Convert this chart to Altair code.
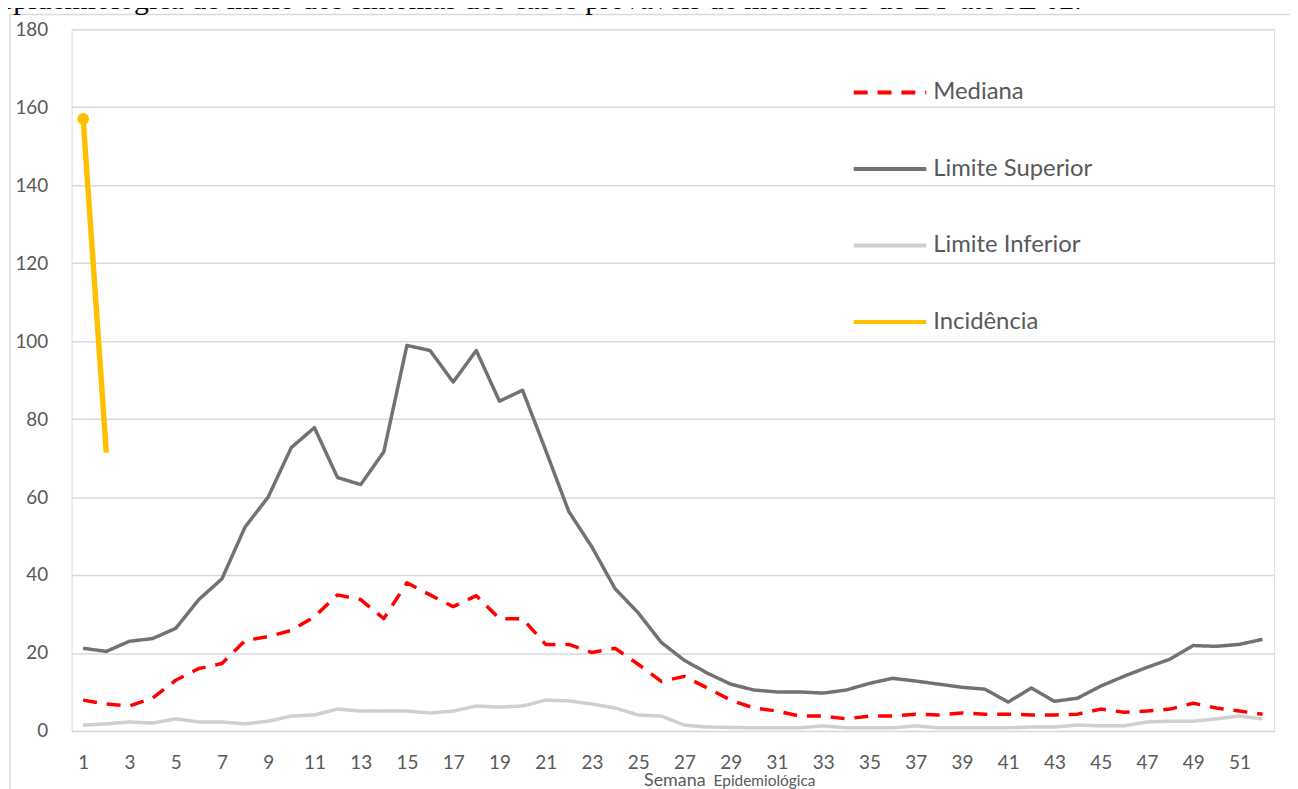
import altair as alt
import pandas as pd

weeks = list(range(1, 53))

mediana = [7.9, 6.9, 6.4, 8.4, 13.0, 16.0, 17.3, 23.2, 24.2, 25.8,
           29.3, 34.9, 33.7, 28.8, 38.0, 34.9, 31.9, 34.7, 28.8, 28.8,
           22.2, 22.2, 20.1, 21.2, 17.1, 12.7, 14.0, 11.0, 7.9, 5.9,
           5.1, 3.8, 3.8, 3.1, 3.8, 3.8, 4.3, 4.1, 4.6, 4.3,
           4.3, 4.1, 4.1, 4.3, 5.6, 4.8, 5.1, 5.6, 7.1, 5.9,
           5.1, 4.3]

limite_superior = [21.2, 20.4, 23.0, 23.7, 26.3, 33.7, 39.0, 52.3, 60.0, 72.7,
                   77.8, 65.0, 63.2, 71.6, 98.9, 97.6, 89.5, 97.6, 84.6, 87.4,
                   72.0, 56.3, 47.2, 36.5, 30.3, 22.7, 18.1, 14.8, 12.0, 10.5,
                   10.0, 10.0, 9.7, 10.5, 12.2, 13.5, 12.8, 12.0, 11.2, 10.7,
                   7.4, 11.0, 7.6, 8.4, 11.5, 14.0, 16.3, 18.4, 21.9, 21.7,
                   22.2, 23.5]

limite_inferior = [1.5, 1.8, 2.3, 2.0, 3.1, 2.3, 2.3, 1.8, 2.5, 3.8,
                   4.1, 5.6, 5.1, 5.1, 5.1, 4.6, 5.1, 6.4, 6.1, 6.4,
                   7.9, 7.7, 6.9, 5.9, 4.1, 3.8, 1.5, 1.0, 0.9, 0.8,
                   0.8, 0.8, 1.3, 0.8, 0.8, 0.8, 1.3, 0.8, 0.8, 0.8,
                   0.8, 1.0, 1.0, 1.5, 1.3, 1.3, 2.3, 2.5, 2.5, 3.1,
                   3.8, 3.1]

incidencia_weeks = [1, 2]
incidencia = [157.0, 71.4]

series_names = ["Mediana", "Limite Superior", "Limite Inferior", "Incidência"]
series_colors = ["#FF0000", "#767171", "#D0CECE", "#FFC000"]
series_dash = [[14, 10], [1, 0], [1, 0], [1, 0]]

x_tick_values = list(range(1, 53, 2))
y_tick_values = list(range(0, 181, 20))

caption = "epidemiológica de início dos sintomas dos casos prováveis de moradores do DF até SE 02."
x_title_main = "Semana"
x_title_small = "Epidemiológica"

rows = []
for w, v in zip(weeks, limite_superior):
    rows.append({"Semana": w, "Valor": v, "Serie": "Limite Superior"})
for w, v in zip(weeks, mediana):
    rows.append({"Semana": w, "Valor": v, "Serie": "Mediana"})
for w, v in zip(weeks, limite_inferior):
    rows.append({"Semana": w, "Valor": v, "Serie": "Limite Inferior"})
for w, v in zip(incidencia_weeks, incidencia):
    rows.append({"Semana": w, "Valor": v, "Serie": "Incidência"})
df = pd.DataFrame(rows)

W, H = 1210, 706
FONT = "Lato"

legend = alt.Legend(title=None, orient="none", legendX=785, legendY=25,
                    symbolType="stroke", symbolSize=5329, symbolStrokeWidth=4,
                    labelFontSize=24, labelColor="#595959", labelLimit=400,
                    labelFont=FONT, labelOffset=5, rowPadding=26,
                    padding=0, symbolOffset=0)

x_enc = alt.X("Semana:Q",
              scale=alt.Scale(domain=[0.5, 52.5], nice=False, zero=False),
              axis=alt.Axis(values=x_tick_values, title=None, grid=False, ticks=False,
                            domain=False, labelFontSize=19, labelColor="#595959",
                            labelPadding=23, labelFont=FONT, labelFlush=False))
y_enc = alt.Y("Valor:Q",
              scale=alt.Scale(domain=[0, 180], nice=False),
              axis=alt.Axis(values=y_tick_values, title=None, ticks=False, domain=False,
                            labelFontSize=19, labelColor="#595959", labelPadding=24,
                            labelFont=FONT, grid=True, gridColor="#D9D9D9",
                            gridWidth=1.5))

color_enc = alt.Color("Serie:N", sort=series_names,
                      scale=alt.Scale(domain=series_names, range=series_colors),
                      legend=legend)
dash_enc = alt.StrokeDash("Serie:N", sort=series_names,
                          scale=alt.Scale(domain=series_names, range=series_dash),
                          legend=legend)

base = alt.Chart(df)


def series_layer(name, width):
    return base.transform_filter(alt.datum.Serie == name).mark_line(
        strokeWidth=width, strokeJoin="round"
    ).encode(x=x_enc, y=y_enc, color=color_enc, strokeDash=dash_enc)


sup_layer = series_layer("Limite Superior", 3.5)
med_layer = series_layer("Mediana", 3.5)
inf_layer = series_layer("Limite Inferior", 3.5)
inc_layer = series_layer("Incidência", 5.5)

start_point = base.transform_filter(
    (alt.datum.Serie == "Incidência") & (alt.datum.Semana == 1)
).mark_circle(size=140, opacity=1, color="#FFC000").encode(
    x=alt.X("Semana:Q"), y=alt.Y("Valor:Q")
)

title_df = pd.DataFrame({"t": [x_title_main]})
title_main = alt.Chart(title_df).mark_text(
    align="left", baseline="alphabetic", fontSize=18, color="#595959", font=FONT
).encode(text="t:N", x=alt.value(576), y=alt.value(H + 55))

title_small_df = pd.DataFrame({"t": [x_title_small]})
title_small = alt.Chart(title_small_df).mark_text(
    align="left", baseline="alphabetic", fontSize=15.5, color="#595959", font=FONT
).encode(text="t:N", x=alt.value(646), y=alt.value(H + 55))

caption_df = pd.DataFrame({"t": [caption]})
caption_mark = alt.Chart(caption_df).mark_text(
    align="left", baseline="alphabetic", fontSize=30, color="#000000",
    font="Liberation Serif"
).encode(text="t:N", x=alt.value(-72), y=alt.value(-20))

border_df = pd.DataFrame({"b": [1]})
border = alt.Chart(border_df).mark_rect(
    fill=None, stroke="#D9D9D9", strokeWidth=1.5
).encode(x=alt.value(-62), x2=alt.value(W + 40), y=alt.value(-15), y2=alt.value(H + 60))

chart = alt.layer(border, caption_mark, sup_layer, med_layer, inf_layer, inc_layer,
                  start_point, title_main, title_small).properties(
    width=W, height=H,
    autosize=alt.AutoSizeParams(type="none"),
    padding={"left": 64, "top": 19, "right": 16, "bottom": 56},
).configure_view(stroke=None).configure(background="white")

chart.save("out.html", embed_options={"renderer": "svg", "actions": False})
